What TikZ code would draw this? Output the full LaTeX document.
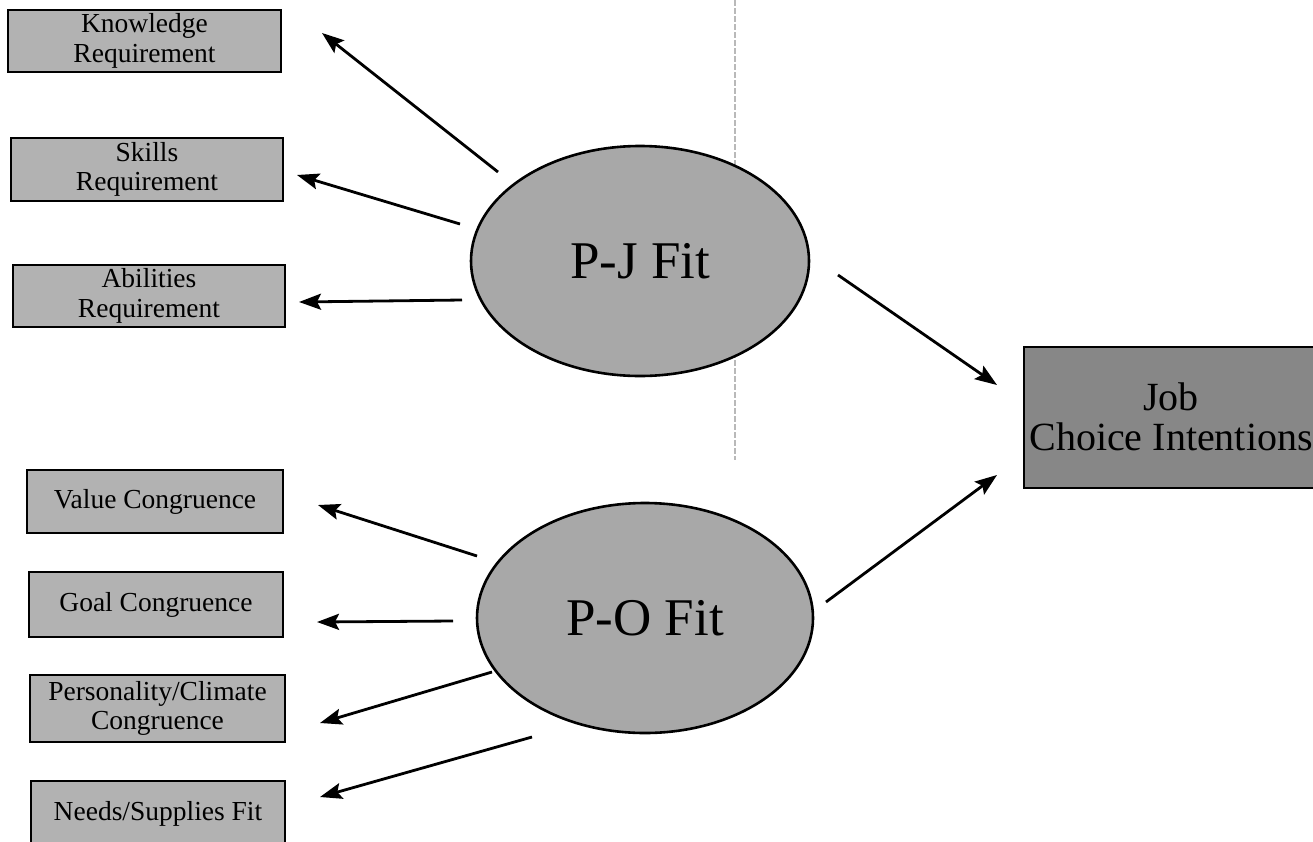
\documentclass[tikz,border=0pt]{standalone}
\usepackage{fontspec}
\setmainfont{Liberation Serif}
\usetikzlibrary{arrows.meta,shapes.geometric}
\definecolor{boxgray}{gray}{0.70}
\definecolor{ellgray}{gray}{0.66}
\definecolor{jobgray}{gray}{0.53}
\begin{document}
\begin{tikzpicture}[x=1pt,y=-1pt,
  smallbox/.style={draw=black,line width=2.8pt,fill=boxgray,inner sep=0pt,
     align=center,font=\fontsize{27.5}{29.5}\selectfont},
  fitell/.style={draw=black,line width=2.6pt,fill=ellgray,ellipse,inner sep=0pt,
     font=\fontsize{53}{56}\selectfont},
  jobbox/.style={draw=black,line width=2.8pt,fill=jobgray,inner sep=0pt,
     minimum width=306pt,minimum height=141pt},
  jobtext/.style={align=center,inner sep=0pt,font=\fontsize{40}{40}\selectfont},
  arr/.style={line width=2.8pt,-{Stealth[length=22pt,width=16pt,inset=4pt]}}]
\useasboundingbox (0,0) rectangle (1313,841);
\fill[white] (0,0) rectangle (1313,841);
% faint fold line
\draw[gray!55,line width=1.4pt,dash pattern=on 6pt off 2pt] (735,0) -- (735,460);
% boxes
\node[smallbox,minimum width=273pt,minimum height=62pt] (kn) at (144.5,41) {Knowledge\\Requirement};
\node[smallbox,minimum width=272pt,minimum height=63pt] (sk) at (147,169.5) {Skills\\Requirement};
\node[smallbox,minimum width=272pt,minimum height=62pt] (ab) at (149,296) {Abilities\\Requirement};
\node[smallbox,minimum width=256pt,minimum height=63pt] (va) at (155,501.5) {Value Congruence};
\node[smallbox,minimum width=254pt,minimum height=65pt] (go) at (156,604.5) {Goal Congruence};
\node[smallbox,minimum width=255pt,minimum height=67pt] (pe) at (157.5,708.5) {Personality/Climate\\Congruence};
\node[smallbox,minimum width=254pt,minimum height=66pt] (ne) at (158,814) {Needs/Supplies Fit};
% ellipses
\node[fitell,minimum width=338pt,minimum height=230pt] (pj) at (640,261) {P-J Fit};
\node[fitell,minimum width=336pt,minimum height=230pt] (po) at (645,618) {P-O Fit};
% job box
\node[jobbox] (job) at (1177,417.5) {};
\node[jobtext] (jobt) at (1171,417) {Job\\Choice Intentions};
% arrow endpoints
\coordinate (a1s) at (498,172); \coordinate (a1e) at (322,33);
\coordinate (a2s) at (460,224); \coordinate (a2e) at (297,175);
\coordinate (a3s) at (462,300); \coordinate (a3e) at (299,302);
\coordinate (a4s) at (477,556); \coordinate (a4e) at (318,505);
\coordinate (a5s) at (453,621); \coordinate (a5e) at (317,622);
\coordinate (a6s) at (492,672); \coordinate (a6e) at (320,723);
\coordinate (a7s) at (532,737); \coordinate (a7e) at (320,797);
\coordinate (a8s) at (838,275); \coordinate (a8e) at (997,385);
\coordinate (a9s) at (826,602); \coordinate (a9e) at (997,475);
\draw[arr] (a1s) -- (a1e);
\draw[arr] (a2s) -- (a2e);
\draw[arr] (a3s) -- (a3e);
\draw[arr] (a4s) -- (a4e);
\draw[arr] (a5s) -- (a5e);
\draw[arr] (a6s) -- (a6e);
\draw[arr] (a7s) -- (a7e);
\draw[arr] (a8s) -- (a8e);
\draw[arr] (a9s) -- (a9e);
\end{tikzpicture}
\end{document}
